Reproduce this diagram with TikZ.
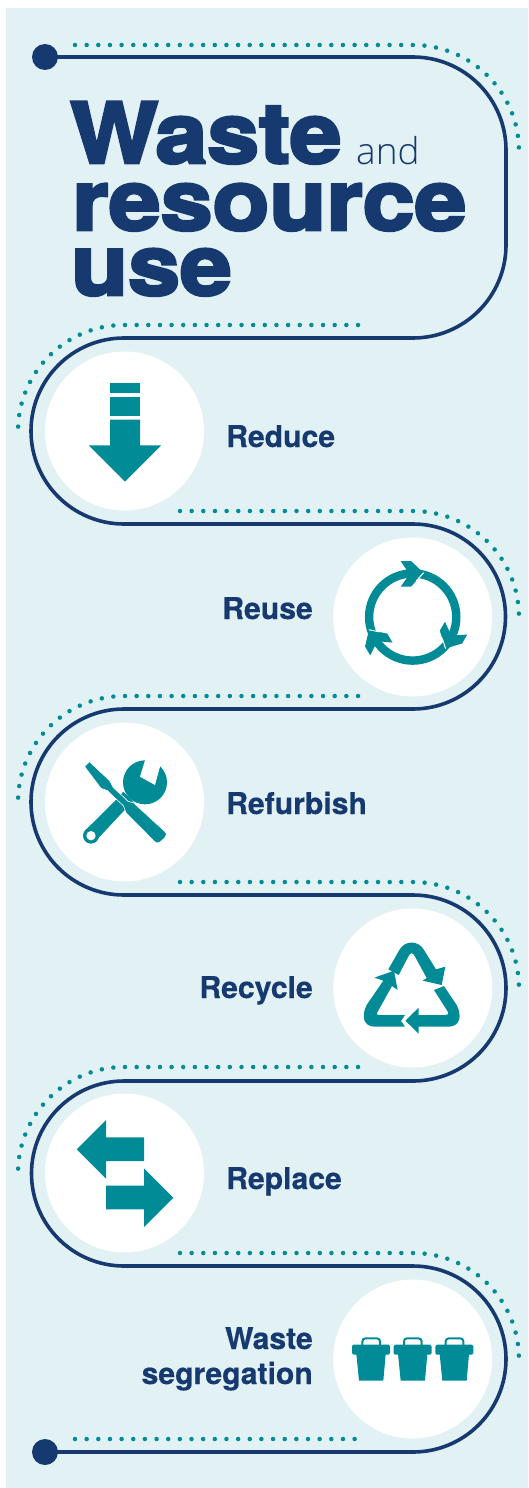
\documentclass[tikz,border=0pt]{standalone}
\usepackage{fontspec}
\setmainfont{TeX Gyre Heros}
\newfontfamily\heavy[FakeBold=3.5,FakeStretch=1.11]{TeX Gyre Heros Bold}
\newfontfamily\lblf[FakeBold=0.5,FakeStretch=1.005]{TeX Gyre Heros Bold}
\newfontfamily\thinf{Open Sans Light}
\definecolor{bgc}{HTML}{E2F1F4}
\definecolor{navy}{HTML}{163A70}
\definecolor{tealc}{HTML}{008B96}
\newcommand{\lblfont}{\lblf\fontsize{30}{35}\selectfont\color{navy}}
\tikzset{
  x=1pt,y=-1pt,
  route/.style={draw=navy,line width=3.6pt},
  dotline/.style={draw=tealc,line width=4.5pt,line cap=round,dash pattern=on 0pt off 11.65pt},
  disc/.style={circle,fill=white,inner sep=0pt,minimum size=159pt},
  endpoint/.style={circle,fill=navy,inner sep=0pt,minimum size=26pt},
  heading/.style={anchor=base west,inner sep=0pt,text=navy,font=\heavy\fontsize{84}{84}\selectfont},
  lblL/.style={anchor=base west,inner sep=0pt,font=\lblfont},
  lblR/.style={anchor=base east,inner sep=0pt,font=\lblfont},
  ico/.style={fill=tealc,draw=none},
  zoomed/.style={x=0.33333pt,y=-0.33333pt},
}
\begin{document}
\begin{tikzpicture}
\useasboundingbox (0,0) rectangle (528,1488);
\fill[bgc] (6,8) rectangle (528,1488);

% discs
\foreach \n/\cx/\cy in {a/124.5/431,b/412.7/617,c/124.5/802,d/412.7/988,e/124.5/1173,f/412.7/1359}
  \node[disc] (disc\n) at (\cx,\cy) {};

% dotted lines
\draw[dotline] (75,45) -- (413,45) arc[start angle=-90,end angle=0,radius=106];
\foreach \y in {325,696,1067}
  \draw[dotline] (358,\y) -- (124,\y) arc[start angle=-90,end angle=-180,radius=106];
\foreach \y in {511,882,1253}
  \draw[dotline] (180,\y) -- (413,\y) arc[start angle=-90,end angle=0,radius=106];
\draw[dotline] (75,1439) -- (360,1439);

% end points and route
\node[endpoint] (start) at (45,57) {};
\node[endpoint] (stop) at (45,1452) {};
\draw[route] (start.center) -- (413,57)
  arc[start angle=-90,end angle=0,radius=93] -- (506,245)
  arc[start angle=0,end angle=90,radius=93] -- (124,338)
  arc[start angle=-90,end angle=-270,radius=93] -- (413,524)
  arc[start angle=-90,end angle=90,radius=92.5] -- (124,709)
  arc[start angle=-90,end angle=-270,radius=93] -- (413,895)
  arc[start angle=-90,end angle=90,radius=93] -- (124,1081)
  arc[start angle=-90,end angle=-270,radius=92.5] -- (413,1266)
  arc[start angle=-90,end angle=90,radius=93] -- (stop.center);

% title
\node[heading] (t1) at (70,163) {Waste};
\node[heading] (t3) at (72,230) {resource};
\node[heading] (t4) at (71,295) {use};
\node[anchor=base west,inner sep=0pt,text=navy,font=\thinf\fontsize{37}{37}\selectfont] (t2) at (356,164) {and};

% labels
\node[lblL] (l1) at (226,447) {Reduce};
\node[lblR] (l2) at (313,619) {Reuse};
\node[lblL] (l3) at (226,814) {Refurbish};
\node[lblR] (l4) at (313,998) {Recycle};
\node[lblL] (l5) at (226,1189) {Replace};
\node[lblR] (l6) at (313,1349) {Waste};
\node[lblR] (l7) at (313,1384) {segregation};

% reduce icon
\fill[ico] (110,382.6) rectangle (140,393.4);
\fill[ico] (110,397.4) rectangle (140,415.6);
\fill[ico] (110,419.7) -- (140,419.7) -- (140,445.3) -- (161.3,445.3) -- (125,481.5) -- (88.6,445.3) -- (110,445.3) -- cycle;

% reuse icon
\draw[tealc,line width=8.4pt] (412.7,617) circle[radius=43.6];
\foreach \r in {0,120,240}{
  \begin{scope}[shift={(412.7,617)},rotate=\r]
    \fill[ico] (-12,-56) -- (-1.7,-56) -- (10.7,-44.3) -- (-1.7,-30.3) -- (-12,-30.3) -- (-3.3,-42.7) -- cycle;
    \draw[white,line width=1pt] (10.9,-44.3) -- (3.5,-36);
  \end{scope}
}

% refurbish icon
\begin{scope}[shift={(40,720)},zoomed]
  \fill[ico] (315,187) circle[radius=66];
  \fill[white] (319,108) -- (300,170) -- (345,195) -- (364,125) -- cycle;
  \fill[ico] (250,215) -- (285,250) -- (252,272) -- (168,362) -- (135,332) -- (225,243) -- cycle;
  \fill[ico] (153,347) circle[radius=24];
  \fill[white] (153,347) circle[radius=14];
  \filldraw[fill=tealc,draw=white,line width=0.6pt,line join=round]
    (148,125) -- (209,182) -- (220,203) -- (250,230) -- (264,244) -- (280,248) -- (374,334)
    .. controls (381,341) and (380,348) .. (374,354) -- (359,367)
    .. controls (353,371) and (346,369) .. (342,363) -- (258,278)
    -- (250,257) -- (223,232) -- (203,212) -- (183,205) -- (134,140) -- cycle;
\end{scope}

% recycle icon
\begin{scope}[shift={(330,910)},zoomed]
  \fill[ico] (175,178) -- (208,120) .. controls (225,90) and (265,90) .. (282,120)
    -- (318,178) -- (346,170) -- (335,225) -- (278,212) -- (290,204) -- (254,138)
    .. controls (249,127) and (241,127) .. (236,138) -- (206,195) -- cycle;
  \fill[ico] (192,182) -- (203,240) -- (186,228) -- (147,298)
    .. controls (137,315) and (140,315) .. (150,315) -- (225,315) -- (213,333) -- (225,350)
    -- (135,350) .. controls (100,350) and (93,318) .. (110,285)
    -- (160,212) -- (133,203) -- cycle;
  \fill[ico] (226,332) -- (266,293) -- (266,315) -- (345,315)
    .. controls (358,315) and (356,308) .. (349,298) -- (312,240) -- (342,228)
    -- (380,285) .. controls (397,318) and (390,350) .. (355,350)
    -- (266,350) -- (266,371) -- cycle;
\end{scope}

% replace icon
\begin{scope}[shift={(40,1090)},zoomed]
  \fill[ico] (110,178) -- (198,90) -- (198,142) -- (312,142) -- (312,213) -- (198,213) -- (198,266) -- cycle;
  \fill[ico] (400,323) -- (312,235) -- (312,287) -- (198,287) -- (198,358) -- (312,358) -- (312,411) -- cycle;
\end{scope}

% bins icon
\foreach \dx in {0,125,250}{
  \begin{scope}[shift={(330,1280)},zoomed,xshift=\dx*0.33333pt]
    \draw[tealc,line width=2pt,rounded corners=3pt] (97,196) -- (97,175) -- (150,175) -- (150,196);
    \fill[ico,rounded corners=1.5pt] (66,194) rectangle (180,224);
    \fill[ico] (79,222) -- (167,222) -- (160,302) -- (87,302) -- cycle;
  \end{scope}
}
\end{tikzpicture}
\end{document}
